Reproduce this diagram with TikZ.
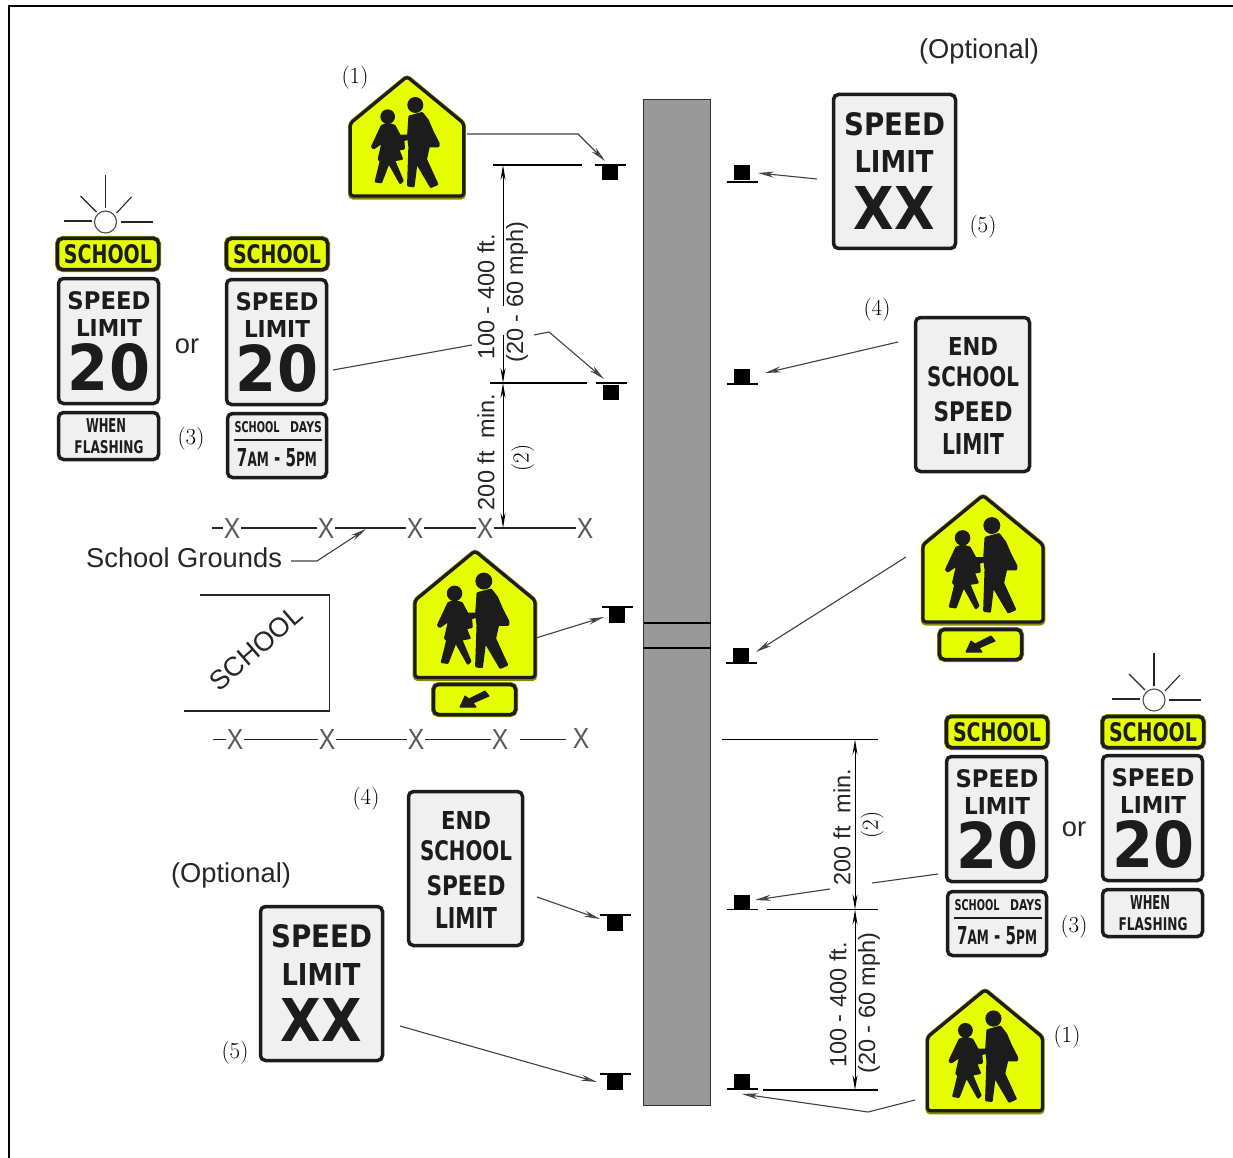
\documentclass[tikz,border=0pt]{standalone}
\usepackage{fontspec}
\usepackage{graphicx}
\usetikzlibrary{arrows.meta}
\newfontfamily\sanf{Liberation Sans}
\newfontfamily\signf{DejaVu Sans}
\definecolor{signyellow}{HTML}{E6FF00}
\definecolor{signwhite}{HTML}{F0F0F0}
\definecolor{signblack}{HTML}{1C1C1C}
\definecolor{signolive}{HTML}{8C8C00}
\definecolor{roadgray}{HTML}{999999}
\newcount\txc
\tikzset{
  signbox/.style={draw=signblack,fill=signwhite,line width=3.5pt,rounded corners=5pt,inner sep=0pt,outer sep=0pt,anchor=north west},
  plaquebox/.style={signbox,fill=signyellow,preaction={draw=signolive,line width=5pt}},
  sgntxt/.style={inner sep=0pt,outer sep=0pt,text=signblack},
  lbl/.style={inner sep=0pt,font=\fontsize{27.3}{29}\selectfont\sanf,text=black!85},
  dimlbl/.style={inner sep=0pt,font=\fontsize{23.5}{26}\selectfont\sanf,text=black!85,rotate=90},
  num/.style={inner sep=0pt,font=\fontsize{23}{25}\selectfont,text=black},
  numrot/.style={num,rotate=90},
  fencex/.style={inner sep=1pt,font=\fontsize{29}{29}\selectfont\sanf,text=black!65},
  fline/.style={black!85,line width=1.1pt},
  ray/.style={black!85,line width=1.1pt},
  conn/.style={black!75,line width=1.1pt},
  connarrow/.style={conn,-{Stealth[open,length=16pt,width=6pt,fill=black!40]}},
  dimarrow/.style={black,line width=1pt,{Stealth[open,length=15pt,width=5pt,fill=black!30]}-{Stealth[open,length=15pt,width=5pt,fill=black!30]}},
  dimend/.style={black,line width=1pt,-{Stealth[open,length=15pt,width=5pt,fill=black!30]}},
  postbar/.style={black,line width=1.2pt},
  postbody/.style={fill=black,inner sep=0pt,outer sep=0pt,minimum width=16pt,minimum height=15pt},
  road/.style={draw=black!80,fill=roadgray,line width=.8pt,inner sep=0pt,outer sep=0pt,minimum width=67pt,minimum height=1006pt},
}
\newcommand{\ftx}[5]{\global\advance\txc by 1
  \node[sgntxt] (t\the\txc) at (#1,#2) {\resizebox{#3pt}{#4pt}{\signf\bfseries #5}};}
\newcommand{\speedtwenty}[3]{\begin{scope}[shift={(#2,#3)}]
  \node[signbox,minimum width=100pt,minimum height=125pt] (#1) at (1.5,1.5) {};
  \ftx{52}{24}{83}{18}{SPEED}\ftx{52}{51}{66}{17}{LIMIT}\ftx{52}{90}{82}{47}{20}
\end{scope}}
\newcommand{\schoolplaque}[3]{\begin{scope}[shift={(#2,#3)}]
  \node[plaquebox,minimum width=101pt,minimum height=31pt] (#1) at (1.5,1.5) {};
  \ftx{52}{17}{88}{19}{SCHOOL}
\end{scope}}
\newcommand{\whenflash}[3]{\begin{scope}[shift={(#2,#3)}]
  \node[signbox,minimum width=100pt,minimum height=47pt] (#1) at (1.5,1.5) {};
  \ftx{49}{14}{40}{14}{WHEN}\ftx{52}{36}{69}{13}{FLASHING}
\end{scope}}
\newcommand{\schooldayssign}[3]{\begin{scope}[shift={(#2,#3)}]
  \node[signbox,minimum width=99pt,minimum height=64pt] (#1) at (1.5,1.5) {};
  \ftx{31}{15.5}{45}{11}{SCHOOL}\ftx{80}{15.5}{32}{11}{DAYS}
  \draw[signblack,line width=1.6pt] (8,28) -- (96,28);
  \ftx{51}{46}{80}{18}{7{\footnotesize AM} - 5{\footnotesize PM}}
\end{scope}}
\newcommand{\speedxx}[3]{\begin{scope}[shift={(#2,#3)}]
  \node[signbox,minimum width=122pt,minimum height=154pt] (#1) at (1.5,1.5) {};
  \ftx{63}{31}{101}{23}{SPEED}\ftx{62}{69}{79}{22}{LIMIT}\ftx{62}{115}{81}{43}{XX}
\end{scope}}
\newcommand{\finishzone}[3]{\begin{scope}[shift={(#2,#3)}]
  \node[signbox,minimum width=114pt,minimum height=154pt] (#1) at (1.5,1.5) {};
  \ftx{59}{30}{50}{18}{END}\ftx{59}{61}{92}{20}{SCHOOL}\ftx{59}{96}{79}{20}{SPEED}\ftx{59}{128}{62}{21}{LIMIT}
\end{scope}}
\newcommand{\pedsign}[4]{\begin{scope}[shift={(#2,#3)},scale=#4]
  \begin{scope}[shift={(-200,-234)}]
  \draw[signolive,line width=4.5pt,rounded corners=3pt] (200,50) -- (370,190) -- (370,412) -- (30,412) -- (30,190) -- cycle;
  \draw[signblack,fill=signyellow,line width=3.2pt,rounded corners=3pt] (200,50) -- (370,190) -- (370,408) -- (30,408) -- (30,190) -- cycle;
  \fill[signblack] (142,170) circle[radius=22];
  \fill[signblack] (225,135) circle[radius=24];
  \filldraw[signblack,line width=2.6pt,line join=round] (125,198) -- (142,192) -- (162,198) -- (178,228) -- (212,228) -- (212,233) -- (188,240) -- (190,265) -- (173,268) -- (184,296) -- (160,300) -- (186,362) -- (180,368) -- (145,306) -- (122,366) -- (107,364) -- (122,303) -- (116,297) -- (128,245) -- (100,264) -- (96,260) -- cycle;
  \filldraw[signblack,line width=2.6pt,line join=round] (208,170) -- (245,160) -- (262,182) -- (276,215) -- (294,250) -- (294,258) -- (265,258) -- (256,298) -- (290,372) -- (272,380) -- (228,305) -- (219,378) -- (204,376) -- (208,260) -- (204,230) -- cycle;
  \end{scope}
  \coordinate (#1) at (0,0);
\end{scope}}
\newcommand{\arrowplaque}[3]{\begin{scope}[shift={(#2,#3)}]
  \node[plaquebox,minimum width=82pt,minimum height=30pt] (#1) at (1.5,1.5) {};
  \filldraw[signblack,line width=1pt,line join=round] (28,24) -- (33,13) -- (37,16) -- (53,8) -- (57,13) -- (41,20) -- (44,24) -- cycle;
\end{scope}}
\newcommand{\sunrays}[3]{\begin{scope}[shift={(#2,#3)}]
  \node[draw=black!70,line width=1.1pt,circle,minimum size=22pt,inner sep=0pt,outer sep=0pt] (#1) at (0,0) {};
  \draw[ray] (0,-47) -- (0,-14); \draw[ray] (-42,-1) -- (-14,-1); \draw[ray] (15,0) -- (47,0);
  \draw[ray] (-25,-26) -- (-9,-10); \draw[ray] (26,-25) -- (11,-9);
\end{scope}}
\newcommand{\sgnpost}[4]{\node[postbody] (#1) at (#2,#3) {};
  \draw[postbar] ({#2-15.5},#4) -- ({#2+15.5},#4);}
\begin{document}
\begin{tikzpicture}[x=1pt,y=-1pt]
\useasboundingbox (0,0) rectangle (1233,1158);
\fill[white] (0,0) rectangle (1233,1158);
\draw[black,line width=1.4pt] (9,1158) -- (9,6) -- (1233,6);
% road
\node[road] (roadway) at (677,602) {};
\coordinate (ra) at (644,623);\coordinate (rb) at (711,623);\coordinate (rc) at (644,648);\coordinate (rd) at (711,648);
\draw[black,line width=1.2pt] (ra) -- (rb) (rc) -- (rd);
% posts, left of road
\sgnpost{p1}{610}{173}{165}
\sgnpost{p2}{611}{392}{383}
\sgnpost{p3}{617}{615}{607}
\sgnpost{p4}{615}{923}{915}
\sgnpost{p5}{615}{1082}{1074}
% posts, right of road
\sgnpost{q1}{742}{173}{182}
\sgnpost{q2}{742}{376}{384}
\sgnpost{q3}{741}{655}{663}
\sgnpost{q4}{742}{902}{909.5}
\sgnpost{q5}{742}{1081}{1089}
% pedestrian signs
\pedsign{s1}{407}{138}{.3333}
\pedsign{s2}{983}{560.5}{.353}
\pedsign{s3}{475}{616}{.353}
\pedsign{s4}{985}{1052}{.338}
\arrowplaque{ap1}{432}{683}
\arrowplaque{ap2}{938}{628}
% left assembly
\sunrays{sun1}{105.5}{222}
\schoolplaque{sp1}{56}{237}
\speedtwenty{sl1}{57}{277}
\whenflash{wf1}{57}{411}
\schoolplaque{sp2}{225}{237}
\speedtwenty{sl2}{225}{278}
\schooldayssign{sd1}{226}{412}
% right assembly
\sunrays{sun2}{1154}{700}
\schoolplaque{sp3}{945}{715}
\speedtwenty{sl3}{945}{755}
\schooldayssign{sd2}{946}{890}
\schoolplaque{sp4}{1101}{715}
\speedtwenty{sl4}{1101}{754}
\whenflash{wf2}{1101}{888}
% other signs
\speedxx{xx1}{832}{93}
\speedxx{xx2}{259}{905}
\finishzone{es1}{914}{316}
\finishzone{es2}{407}{790}
% labels
\node[lbl] (optr) at (979,51) {(Optional)};
\node[lbl] (optl) at (231,875) {(Optional)};
\node[lbl] (orl) at (187,346) {or};
\node[lbl] (orr) at (1074,829) {or};
\node[lbl,anchor=west] (grounds) at (86,558) {School Grounds};
\node[lbl,rotate=41,font=\fontsize{27}{30}\selectfont\sanf] (schooltxt) at (256,648) {SCHOOL};
\node[num] (n1a) at (355,78) {(1)};
\node[num] (n1b) at (1067,1037) {(1)};
\node[num] (n3a) at (191,439) {(3)};
\node[num] (n3b) at (1074,927) {(3)};
\node[num] (n4a) at (877,310) {(4)};
\node[num] (n4b) at (366,799) {(4)};
\node[num] (n5a) at (983,227) {(5)};
\node[num] (n5b) at (235,1053) {(5)};
\node[numrot] (n2a) at (523,458) {(2)};
\node[numrot] (n2b) at (872,825) {(2)};
\node[dimlbl] (d1) at (486,297) {100 - 400 ft.};
\node[dimlbl] (d2) at (517,292) {(20 - 60 mph)};
\node[dimlbl] (d3) at (486,452) {200 ft\ \ min.};
\node[dimlbl] (d4) at (842,827) {200 ft\ \ min.};
\node[dimlbl] (d5) at (838,1005) {100 - 400 ft.};
\node[dimlbl] (d6) at (869,1003) {(20 - 60 mph)};
% fences
\node[fencex] (fa1) at (232,529) {\scalebox{.85}[1]{X}};
\node[fencex] (fa2) at (326,529) {\scalebox{.85}[1]{X}};
\node[fencex] (fa3) at (415,529) {\scalebox{.85}[1]{X}};
\node[fencex] (fa4) at (485,529) {\scalebox{.85}[1]{X}};
\node[fencex] (fa5) at (585,529) {\scalebox{.85}[1]{X}};
\coordinate (fa0) at (212,528);
\draw[fline] (fa0) -- (fa1.west |- fa0);
\draw[fline] (fa1.east |- fa0) -- (fa2.west |- fa0) (fa2.east |- fa0) -- (fa3.west |- fa0) (fa3.east |- fa0) -- (fa4.west |- fa0) (fa4.east |- fa0) -- (fa5.west |- fa0);
\node[fencex] (fb1) at (235,740) {\scalebox{.85}[1]{X}};
\node[fencex] (fb2) at (327,740) {\scalebox{.85}[1]{X}};
\node[fencex] (fb3) at (416,740) {\scalebox{.85}[1]{X}};
\node[fencex] (fb4) at (500,740) {\scalebox{.85}[1]{X}};
\node[fencex] (fb5) at (581,739) {\scalebox{.85}[1]{X}};
\coordinate (fb0) at (213,739.5);\coordinate (fb6) at (520,739.5);\coordinate (fb7) at (566,739.5);
\draw[fline] (fb0) -- (fb1.west |- fb0);
\draw[fline] (fb1.east |- fb0) -- (fb2.west |- fb0) (fb2.east |- fb0) -- (fb3.west |- fb0) (fb3.east |- fb0) -- (fb4.west |- fb0);
\draw[fline] (fb6) -- (fb7);
% school box
\coordinate (ba) at (200,595);\coordinate (bb) at (329.5,595);\coordinate (bc) at (329.5,711);\coordinate (bd) at (184,711);
\draw[black!85,line width=1.2pt] (ba) -- (bb) -- (bc) -- (bd);
% dimension lines, left
\coordinate (la) at (493,165);\coordinate (lb) at (582,165);
\coordinate (lc) at (490,383);\coordinate (ld) at (587,383);
\draw[black,line width=1.1pt] (la) -- (lb) (lc) -- (ld);
\coordinate (le) at (503,165);\coordinate (lf) at (503,306);\coordinate (lg) at (503,335);\coordinate (lh) at (503,383);\coordinate (li) at (503,528);
\draw[dimend] (lf) -- (le);
\draw[dimend] (lg) -- (lh);
\draw[dimarrow] (lh) -- (li);
% dimension lines, right
\coordinate (ra1) at (722,739.5);\coordinate (ra2) at (878,739.5);
\coordinate (rb1) at (767,909.5);\coordinate (rb2) at (878,909.5);
\coordinate (rc1) at (763,1090);\coordinate (rc2) at (878,1090);
\draw[black,line width=1.1pt] (ra1) -- (ra2) (rb1) -- (rb2) (rc1) -- (rc2);
\coordinate (rv1) at (855,739.5);\coordinate (rv2) at (855,909.5);\coordinate (rv3) at (855,1090);
\draw[dimarrow] (rv1) -- (rv2);
\draw[dimarrow] (rv2) -- (rv3);
% connectors
\coordinate (c1a) at (467,134);\coordinate (c1b) at (578,134);\coordinate (c1c) at (605,161);
\draw[connarrow] (c1a) -- (c1b) -- (c1c);
\coordinate (c2a) at (333,370);\coordinate (c2b) at (472,345);
\draw[conn] (c2a) -- (c2b);
\coordinate (c2c) at (534,335);\coordinate (c2d) at (549,332);\coordinate (c2e) at (604,379);
\draw[connarrow] (c2c) -- (c2d) -- (c2e);
\coordinate (c3a) at (536,638);\coordinate (c3b) at (604,617);
\draw[connarrow] (c3a) -- (c3b);
\coordinate (c4a) at (537,897);\coordinate (c4b) at (600,919);
\draw[connarrow] (c4a) -- (c4b);
\coordinate (c5a) at (400,1026);\coordinate (c5b) at (597,1082);
\draw[connarrow] (c5a) -- (c5b);
\coordinate (c6a) at (817,179);\coordinate (c6b) at (758,173);
\draw[connarrow] (c6a) -- (c6b);
\coordinate (c7a) at (898,342);\coordinate (c7b) at (765,373);
\draw[connarrow] (c7a) -- (c7b);
\coordinate (c8a) at (906,557);\coordinate (c8b) at (756,652);
\draw[connarrow] (c8a) -- (c8b);
\coordinate (c9a) at (938,874);\coordinate (c9b) at (872,883);
\draw[conn] (c9a) -- (c9b);
\coordinate (c9c) at (830,889);\coordinate (c9d) at (755,900);
\draw[connarrow] (c9c) -- (c9d);
\coordinate (c10a) at (915,1100);\coordinate (c10b) at (868,1112);\coordinate (c10c) at (742,1094);
\draw[connarrow] (c10a) -- (c10b) -- (c10c);
\coordinate (c11a) at (291,561);\coordinate (c11b) at (317,561);\coordinate (c11c) at (366,529);
\draw[connarrow] (c11a) -- (c11b) -- (c11c);
\end{tikzpicture}
\end{document}
